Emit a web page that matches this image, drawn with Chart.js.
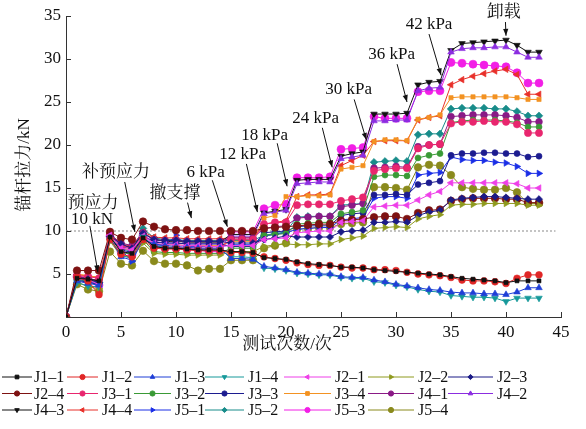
<!DOCTYPE html>
<html>
<head>
<meta charset="utf-8">
<script src="https://cdn.jsdelivr.net/npm/chart.js@4/dist/chart.umd.min.js"></script>
<style>
  html, body { margin: 0; padding: 0; background: #fff; }
  #wrap { width: 586px; height: 429px; }
</style>
</head>
<body>
<div id="wrap"><canvas id="c" width="586" height="429"></canvas></div>
<script>
// Test number (x) for every reading
const testNo = [0, 1, 2, 3, 4, 5, 6, 7, 8, 9, 10, 11, 12, 13, 14, 15, 16, 17, 18, 19, 20, 21,
  22, 23, 24, 25, 26, 27, 28, 29, 30, 31, 32, 33, 34, 35, 36, 37, 38, 39, 40, 41, 42, 43];

const xTicks = [0, 5, 10, 15, 20, 25, 30, 35, 40, 45];
const yTicks = [0, 5, 10, 15, 20, 25, 30, 35];
const prestressLine = 10;

const seriesNames = ['J1–1', 'J1–2', 'J1–3', 'J1–4', 'J2–1', 'J2–2', 'J2–3',
  'J2–4', 'J3–1', 'J3–2', 'J3–3', 'J3–4', 'J4–1', 'J4–2',
  'J4–3', 'J4–4', 'J5–1', 'J5–2', 'J5–3', 'J5–4'];

// Anchor forces, kN
const J1_1 = [0, 4.5, 4.4, 4.2, 9.3, 7.6, 7.4, 9.2, 8.2, 8.0, 8.0, 7.9, 7.8, 7.8, 7.8, 7.6, 7.6, 7.5, 6.9, 6.8, 6.7, 6.4, 6.2, 6.1, 6.0, 5.8, 5.8, 5.7, 5.5, 5.4, 5.3, 5.2, 5.1, 5.0, 4.9, 4.7, 4.5, 4.4, 4.3, 4.2, 4.0, 4.2, 4.2, 4.2];
const J1_2 = [0, 4.6, 4.2, 2.6, 9.0, 7.3, 7.0, 9.0, 8.0, 7.9, 7.9, 7.8, 7.7, 7.7, 7.7, 7.5, 7.5, 7.4, 7.0, 6.8, 6.6, 6.3, 6.1, 6.0, 6.0, 5.8, 5.7, 5.7, 5.5, 5.5, 5.4, 5.2, 5.0, 4.9, 4.8, 4.6, 4.3, 4.2, 4.2, 4.1, 3.9, 4.5, 4.9, 4.9];
const J1_3 = [0, 4.2, 3.9, 3.7, 9.2, 7.0, 6.6, 9.0, 8.5, 8.3, 8.2, 8.1, 8.0, 8.0, 8.0, 6.8, 6.8, 6.7, 5.9, 5.7, 5.5, 5.2, 5.1, 5.0, 5.0, 4.7, 4.6, 4.6, 4.3, 4.1, 3.8, 3.6, 3.4, 3.2, 3.1, 2.9, 2.8, 2.8, 2.7, 2.7, 2.6, 2.9, 3.4, 3.4];
const J1_4 = [0, 4.0, 3.6, 3.5, 9.0, 7.2, 6.8, 9.3, 8.3, 8.1, 8.0, 7.9, 7.8, 7.8, 7.8, 7.0, 7.0, 6.9, 5.7, 5.6, 5.4, 5.1, 5.0, 4.9, 4.9, 4.6, 4.5, 4.5, 4.1, 4.0, 3.7, 3.5, 3.2, 3.0, 2.9, 2.5, 2.4, 2.3, 2.3, 2.2, 1.8, 2.2, 2.2, 2.2];
const J2_1 = [0, 4.5, 4.3, 3.8, 9.5, 8.0, 7.8, 9.4, 8.6, 8.4, 8.4, 8.3, 8.3, 8.2, 8.2, 8.3, 8.3, 8.3, 9.0, 9.1, 9.2, 9.8, 9.9, 10.0, 10.0, 11.0, 11.1, 11.2, 12.8, 12.9, 13.0, 13.0, 13.6, 14.2, 14.6, 15.6, 15.6, 15.6, 15.6, 15.6, 15.6, 15.5, 15.0, 15.0];
const J2_2 = [0, 4.1, 3.5, 3.3, 8.8, 7.1, 6.9, 8.6, 7.4, 7.3, 7.3, 7.2, 7.2, 7.2, 7.2, 7.6, 7.6, 7.6, 8.2, 8.4, 8.5, 8.4, 8.4, 8.5, 8.5, 9.0, 9.2, 9.4, 10.3, 10.4, 10.5, 10.4, 11.4, 11.7, 11.9, 13.0, 13.1, 13.1, 13.2, 13.2, 13.2, 13.2, 13.0, 13.0];
const J2_3 = [0, 4.6, 4.4, 4.0, 9.4, 8.5, 8.0, 9.7, 9.0, 8.9, 8.9, 8.8, 8.8, 8.8, 8.8, 8.6, 8.6, 8.6, 9.0, 9.2, 9.4, 9.3, 9.3, 9.3, 9.3, 9.9, 10.0, 10.1, 11.0, 11.0, 11.1, 11.0, 11.8, 12.2, 12.4, 13.6, 13.8, 13.9, 14.0, 14.0, 13.9, 13.8, 13.7, 13.7];
const J2_4 = [0, 5.4, 5.4, 5.4, 9.9, 9.2, 9.0, 11.1, 10.5, 10.2, 10.1, 10.1, 10.0, 10.0, 10.0, 10.0, 10.0, 10.0, 10.3, 10.4, 10.5, 10.6, 10.7, 10.8, 10.8, 11.2, 11.3, 11.4, 11.6, 11.7, 11.7, 11.4, 12.1, 12.4, 12.5, 13.5, 13.7, 13.8, 13.8, 13.8, 13.7, 13.7, 13.3, 13.3];
const J3_1 = [0, 4.8, 4.7, 4.5, 9.6, 8.3, 8.0, 9.2, 8.2, 8.1, 8.1, 8.0, 8.0, 8.0, 8.0, 9.0, 9.0, 9.0, 10.8, 11.0, 11.0, 13.0, 13.1, 13.1, 13.1, 13.5, 13.7, 13.9, 17.0, 17.2, 17.3, 17.3, 19.6, 20.0, 20.1, 22.5, 22.7, 22.7, 22.8, 22.7, 22.7, 22.4, 21.4, 21.4];
const J3_2 = [0, 4.4, 4.2, 4.0, 9.0, 7.5, 7.3, 9.0, 7.6, 7.5, 7.5, 7.4, 7.4, 7.4, 7.4, 8.0, 8.0, 8.0, 9.5, 9.6, 9.7, 10.8, 10.9, 11.0, 11.0, 12.0, 12.2, 12.4, 16.3, 16.5, 16.5, 16.4, 18.5, 18.8, 19.0, 22.6, 22.8, 22.9, 22.9, 22.9, 22.8, 22.6, 22.1, 22.1];
const J3_3 = [0, 4.3, 4.0, 3.8, 9.2, 7.8, 7.5, 9.4, 8.7, 8.6, 8.6, 8.5, 8.5, 8.5, 8.5, 8.2, 8.2, 8.2, 9.8, 9.9, 10.0, 10.5, 10.6, 10.6, 10.6, 11.8, 12.0, 12.1, 14.2, 14.2, 14.3, 14.2, 15.4, 15.6, 15.8, 18.8, 19.0, 19.0, 19.1, 19.1, 19.0, 19.0, 18.6, 18.7];
const J3_4 = [0, 5.0, 4.8, 4.6, 9.5, 8.0, 7.8, 9.6, 8.5, 8.4, 8.4, 8.3, 8.3, 8.3, 8.3, 8.8, 8.8, 8.8, 11.5, 11.8, 14.0, 14.0, 14.1, 14.1, 14.2, 17.2, 17.4, 17.6, 20.4, 20.6, 20.6, 20.5, 23.0, 23.2, 23.5, 25.5, 25.6, 25.6, 25.6, 25.6, 25.6, 25.5, 25.3, 25.3];
const J4_1 = [0, 4.7, 4.5, 4.2, 9.6, 8.6, 8.3, 9.8, 9.0, 8.9, 8.9, 8.8, 8.8, 8.8, 8.8, 9.2, 9.2, 9.2, 10.3, 10.5, 10.6, 11.5, 11.6, 11.7, 11.7, 12.8, 13.0, 13.2, 17.3, 17.4, 17.5, 17.4, 19.8, 20.0, 20.1, 23.3, 23.4, 23.5, 23.5, 23.5, 23.4, 23.2, 22.7, 22.7];
const J4_2 = [0, 4.6, 4.4, 4.0, 9.5, 8.2, 7.9, 9.5, 8.8, 8.6, 8.6, 8.5, 8.5, 8.5, 8.5, 9.4, 9.4, 9.4, 12.0, 12.2, 12.4, 15.5, 15.6, 15.7, 15.7, 18.4, 18.6, 18.8, 22.8, 22.8, 22.9, 22.9, 26.3, 26.6, 26.7, 30.8, 31.2, 31.3, 31.3, 31.4, 31.4, 30.8, 30.2, 30.2];
const J4_3 = [0, 4.7, 4.5, 4.2, 9.6, 8.4, 8.0, 9.8, 9.0, 8.8, 8.8, 8.7, 8.7, 8.7, 8.7, 9.6, 9.6, 9.6, 12.1, 12.3, 12.5, 15.9, 16.0, 16.0, 16.0, 18.7, 19.0, 19.2, 23.6, 23.6, 23.6, 23.7, 27.0, 27.3, 27.4, 31.0, 31.8, 31.9, 32.0, 32.1, 32.2, 31.6, 30.8, 30.8];
const J4_4 = [0, 4.9, 4.8, 4.6, 9.7, 8.5, 8.2, 9.9, 9.3, 9.2, 9.2, 9.1, 9.1, 9.1, 9.1, 9.2, 9.2, 9.2, 10.8, 11.0, 11.2, 14.0, 14.2, 14.2, 14.3, 17.6, 18.2, 18.8, 20.4, 20.5, 20.5, 20.5, 22.9, 23.2, 23.4, 27.0, 27.6, 28.0, 28.3, 28.6, 28.8, 28.2, 25.9, 25.9];
const J5_1 = [0, 4.4, 4.1, 3.9, 9.3, 7.8, 6.5, 9.0, 8.4, 8.3, 9.5, 8.2, 8.2, 8.2, 8.2, 8.4, 8.4, 8.4, 9.4, 9.6, 9.8, 10.2, 10.3, 10.4, 10.4, 11.3, 11.4, 11.6, 13.8, 14.0, 14.0, 13.8, 16.5, 16.7, 16.8, 18.6, 18.3, 18.2, 18.2, 18.0, 17.9, 17.5, 16.7, 16.7];
const J5_2 = [0, 4.5, 4.3, 4.0, 9.4, 8.0, 7.6, 10.3, 9.2, 9.0, 9.0, 8.9, 8.9, 8.9, 8.9, 8.9, 8.9, 8.9, 9.5, 9.7, 9.9, 11.6, 11.7, 11.7, 11.7, 13.0, 13.1, 13.2, 18.0, 18.1, 18.2, 18.1, 21.2, 21.3, 21.3, 24.2, 24.3, 24.3, 24.3, 24.2, 24.2, 23.9, 23.4, 23.4];
const J5_3 = [0, 4.7, 4.6, 3.7, 9.4, 7.6, 7.2, 9.5, 8.2, 8.0, 8.0, 7.9, 7.8, 7.6, 7.6, 9.9, 9.9, 9.9, 12.6, 13.0, 13.1, 16.2, 16.2, 16.2, 16.3, 19.5, 19.6, 19.7, 23.3, 23.1, 23.1, 23.1, 26.2, 26.3, 26.3, 29.6, 29.5, 29.4, 29.3, 29.2, 29.1, 28.4, 27.2, 27.2];
const J5_4 = [0, 3.8, 3.2, 3.0, 7.6, 6.2, 6.0, 7.7, 6.5, 6.2, 6.2, 6.0, 5.4, 5.6, 5.6, 6.6, 6.6, 6.6, 8.0, 8.3, 8.6, 10.2, 10.3, 10.4, 10.4, 10.8, 10.9, 11.0, 15.1, 15.1, 15.0, 14.8, 17.4, 17.7, 17.6, 16.5, 15.1, 14.9, 14.8, 14.8, 15.0, 14.5, 13.2, 13.2];

const seriesValues = [J1_1, J1_2, J1_3, J1_4, J2_1, J2_2, J2_3, J2_4, J3_1, J3_2,
  J3_3, J3_4, J4_1, J4_2, J4_3, J4_4, J5_1, J5_2, J5_3, J5_4];

// Colour, marker shape, marker rotation and size for every anchor
const looks = [
  ['#111111', 'rect', 0, 2.8],
  ['#e02626', 'circle', 0, 3.4],
  ['#1f3ed6', 'triangle', 0, 3.8],
  ['#16999a', 'triangle', 180, 3.8],
  ['#ee3fe8', 'triangle', 270, 3.8],
  ['#8f9a1e', 'triangle', 90, 3.8],
  ['#1b1b86', 'rectRot', 0, 3.6],
  ['#7e1212', 'circle', 0, 3.8],
  ['#e8266e', 'circle', 0, 3.6],
  ['#3a9a36', 'circle', 0, 3.0],
  ['#1c1c90', 'circle', 0, 3.0],
  ['#f39222', 'rect', 0, 3.0],
  ['#8a1a86', 'circle', 0, 3.4],
  ['#8b2de0', 'triangle', 0, 3.8],
  ['#111111', 'triangle', 180, 3.8],
  ['#e8302a', 'triangle', 270, 3.8],
  ['#1a2ee6', 'triangle', 90, 3.8],
  ['#188c8a', 'rectRot', 0, 3.8],
  ['#f21ee6', 'circle', 0, 4.0],
  ['#8a8a1c', 'circle', 0, 3.8]
];

const serif = '"Liberation Serif", "Times New Roman", serif';
const cjk = '"Liberation Serif", "Noto Serif CJK SC", "Noto Sans CJK SC", serif';

// Load-stage notes: text centre, arrow tail, arrow tip (in axis units)
const notes = [
  { lines: ['预应力', '10 kN'], at: [[2.45, 13.25], [2.36, 11.3]], tail: [2.17, 10.6], tip: [2.9, 5.2] },
  { lines: ['补预应力'], at: [[4.55, 16.75]], tail: [5.34, 15.7], tip: [6.25, 9.9] },
  { lines: ['撤支撑'], at: [[9.9, 14.4]], tail: [11.05, 13.3], tip: [11.4, 11.5] },
  { lines: ['6 kPa'], at: [[12.7, 16.85]], tail: [13.3, 15.9], tip: [14.67, 10.5] },
  { lines: ['12 kPa'], at: [[16.05, 18.85]], tail: [16.4, 17.8], tip: [17.4, 12.2] },
  { lines: ['18 kPa'], at: [[18.05, 21.15]], tail: [19.2, 20.2], tip: [20.1, 15.2] },
  { lines: ['24 kPa'], at: [[22.7, 23.1]], tail: [23.3, 22.0], tip: [24.2, 17.4] },
  { lines: ['30 kPa'], at: [[25.7, 26.4]], tail: [26.2, 25.3], tip: [27.3, 20.6] },
  { lines: ['36 kPa'], at: [[29.6, 30.5]], tail: [30.1, 29.4], tip: [31.0, 25.0] },
  { lines: ['42 kPa'], at: [[33.0, 34.0]], tail: [33.0, 32.9], tip: [34.1, 28.1] },
  { lines: ['卸载'], at: [[39.8, 35.35]], tail: [39.95, 34.3], tip: [40.0, 32.7] }
];

const datasets = seriesValues.map((vals, i) => {
  const [color, shape, rot, r] = looks[i];
  return {
    label: seriesNames[i],
    data: testNo.map((x, k) => ({ x: x, y: vals[k] })),
    borderColor: color,
    backgroundColor: color,
    borderWidth: 1,
    pointStyle: shape,
    pointRotation: rot,
    pointRadius: r,
    pointBorderWidth: 0.6,
    pointHoverRadius: r,
    tension: 0
  };
});

// dotted 10 kN reference line
datasets.push({
  label: 'ref',
  data: [{ x: 0, y: prestressLine }, { x: 44.5, y: prestressLine }],
  borderColor: '#8a8a8a',
  borderWidth: 1,
  borderDash: [2, 2],
  pointRadius: 0,
  order: 5
});

const decor = {
  id: 'decor',
  afterDraw(chart) {
    const ctx = chart.ctx;
    const xs = chart.scales.x, ys = chart.scales.y;
    const area = chart.chartArea;
    ctx.save();
    // inward tick marks
    ctx.strokeStyle = '#333';
    ctx.lineWidth = 1;
    ctx.beginPath();
    xTicks.forEach(v => {
      if (v === 0) return;
      const px = Math.round(xs.getPixelForValue(v)) + 0.5;
      ctx.moveTo(px, area.bottom);
      ctx.lineTo(px, area.bottom - 5);
    });
    yTicks.forEach(v => {
      if (v === 0) return;
      const py = Math.round(ys.getPixelForValue(v)) + 0.5;
      ctx.moveTo(area.left, py);
      ctx.lineTo(area.left + 5, py);
    });
    ctx.stroke();

    // axis titles
    ctx.fillStyle = '#111';
    ctx.textAlign = 'center';
    ctx.textBaseline = 'middle';
    ctx.font = '17px ' + cjk;
    ctx.fillText('测试次数/次', 287, 345);
    ctx.save();
    ctx.translate(25, 165);
    ctx.rotate(-Math.PI / 2);
    ctx.fillText('锚杆拉力/kN', 0, 0);
    ctx.restore();

    // load-stage notes with arrows
    notes.forEach(n => {
      n.lines.forEach((t, j) => {
        const isCjk = /[\u4e00-\u9fff]/.test(t);
        ctx.font = (isCjk ? '17px ' + cjk : '17px ' + serif);
        ctx.fillText(t, xs.getPixelForValue(n.at[j][0]), ys.getPixelForValue(n.at[j][1]));
      });
      const x1 = xs.getPixelForValue(n.tail[0]), y1 = ys.getPixelForValue(n.tail[1]);
      const x2 = xs.getPixelForValue(n.tip[0]), y2 = ys.getPixelForValue(n.tip[1]);
      ctx.strokeStyle = '#111';
      ctx.lineWidth = 1;
      ctx.beginPath();
      ctx.moveTo(x1, y1);
      ctx.lineTo(x2, y2);
      ctx.stroke();
      const a = Math.atan2(y2 - y1, x2 - x1);
      const L = 7, W = 2.6;
      ctx.fillStyle = '#111';
      ctx.beginPath();
      ctx.moveTo(x2, y2);
      ctx.lineTo(x2 - L * Math.cos(a) + W * Math.sin(a), y2 - L * Math.sin(a) - W * Math.cos(a));
      ctx.lineTo(x2 - L * Math.cos(a) - W * Math.sin(a), y2 - L * Math.sin(a) + W * Math.cos(a));
      ctx.closePath();
      ctx.fill();
    });

    // legend: three rows of seven
    const cols = [[2, 32, 34], [67, 98, 102], [134, 171, 175], [205, 244, 248],
                  [284, 331, 335], [368, 414, 418], [448, 493, 497]];
    const rows = [377, 393.5, 410];
    ctx.font = '16px ' + serif;
    ctx.textAlign = 'left';
    ctx.textBaseline = 'middle';
    seriesNames.forEach((name, i) => {
      const [color, shape, rot] = looks[i];
      const c = cols[i % 7], y = rows[Math.floor(i / 7)];
      ctx.strokeStyle = color;
      ctx.lineWidth = 1;
      ctx.beginPath();
      ctx.moveTo(c[0], y);
      ctx.lineTo(c[1], y);
      ctx.stroke();
      ctx.fillStyle = color;
      Chart.helpers.drawPoint(ctx, { pointStyle: shape, rotation: rot, radius: 2.6, borderWidth: 0.5 }, (c[0] + c[1]) / 2, y);
      ctx.fillStyle = '#111';
      ctx.fillText(name, c[2], y + 1);
    });
    ctx.restore();
  }
};

new Chart(document.getElementById('c'), {
  type: 'line',
  data: { datasets: datasets },
  options: {
    responsive: false,
    animation: false,
    events: [],
    layout: { padding: { top: 16, right: 25, left: 0, bottom: 0 } },
    plugins: { legend: { display: false }, tooltip: { enabled: false } },
    scales: {
      x: {
        type: 'linear',
        min: 0, max: 45,
        afterFit: s => { s.height = 112; },
        afterBuildTicks: s => { s.ticks = xTicks.map(v => ({ value: v })); },
        grid: { display: false, drawTicks: false },
        border: { display: true, color: '#333', width: 1 },
        ticks: { padding: 5, color: '#111', font: { family: serif, size: 17 }, maxRotation: 0 }
      },
      y: {
        min: 0, max: 35,
        afterFit: s => { s.width = 66; },
        afterBuildTicks: s => { s.ticks = yTicks.map(v => ({ value: v })); },
        grid: { display: false, drawTicks: false },
        border: { display: true, color: '#333', width: 1 },
        ticks: { padding: 5, color: '#111', font: { family: serif, size: 17 },
          callback: v => (v === 0 ? '' : v) }
      }
    }
  },
  plugins: [decor]
});
</script>
</body>
</html>
